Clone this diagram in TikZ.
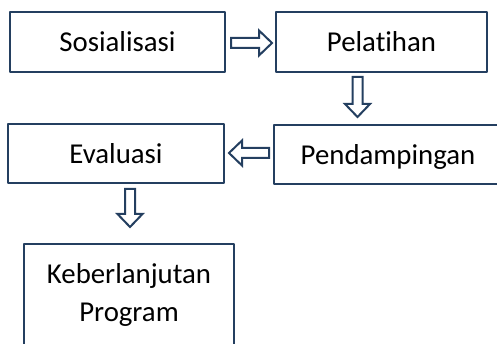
\documentclass[tikz,border=0pt]{standalone}
\usepackage{fontspec}
\setmainfont{Carlito}[Ligatures=CommonOff]
\usetikzlibrary{calc}
\definecolor{garis}{HTML}{243F60}
\tikzset{
	kotak/.style={draw=garis, line width=2pt, inner sep=0pt, align=center, text height=24pt, text depth=4pt, font=\fontsize{28.8}{38}\selectfont},
	panah/.style={draw=garis, fill=white, line width=2pt, line join=miter, to path={
		let \p1=(\tikztostart), \p2=(\tikztotarget),
		\n1={atan2(\y2-\y1,\x2-\x1)}, \n2={veclen(\x2-\x1,\y2-\y1)} in
		([shift={(\p1)},rotate=\n1]0,-\sw) -- ([shift={(\p1)},rotate=\n1]\n2-\hl,-\sw)
		-- ([shift={(\p1)},rotate=\n1]\n2-\hl,-\hw) -- ([shift={(\p1)},rotate=\n1]\n2,0)
		-- ([shift={(\p1)},rotate=\n1]\n2-\hl,\hw) -- ([shift={(\p1)},rotate=\n1]\n2-\hl,\sw)
		-- ([shift={(\p1)},rotate=\n1]0,\sw) -- cycle}},
}
\begin{document}
\begin{tikzpicture}[x=1pt, y=1pt, line join=round]
	\def\sw{5} \def\hw{12.5} \def\hl{13} % ukuran panah
	\useasboundingbox (0,0) rectangle (497,344);
	\clip (0,0) rectangle (497,344);
	\node[kotak, minimum width=215pt, minimum height=60pt] (sos) at (117.5,302) {Sosialisasi};
	\node[kotak, minimum width=211pt, minimum height=60pt] (pel) at (381.5,302) {Pelatihan};
	\node[kotak, minimum width=228pt, minimum height=59pt] (pen) at (388,189.5) {Pendampingan};
	\node[kotak, minimum width=216pt, minimum height=59pt] (eva) at (116,190.5) {Evaluasi};
	\node[kotak, minimum width=210pt, minimum height=112pt, text height=48pt, text depth=4pt] (keb) at (129,44) {Keberlanjutan\\Program};
	\coordinate (a2) at ($(pel.south)+(-24,0)$);
	\draw[panah] ($(sos.east)+(5,-1)$) to ($(pel.west)+(-3,-1)$);
	\draw[panah] ($(a2)+(0,-4)$) to ($(a2 |- pen.north)+(0,7)$);
	\draw[panah] ($(pen.west)+(-4,1.5)$) to ($(pen.west -| eva.east)+(4,1.5)$);
	\draw[panah] ($(eva.south -| keb.north)+(1,-5)$) to ($(keb.north)+(1,16)$);
\end{tikzpicture}
\end{document}
